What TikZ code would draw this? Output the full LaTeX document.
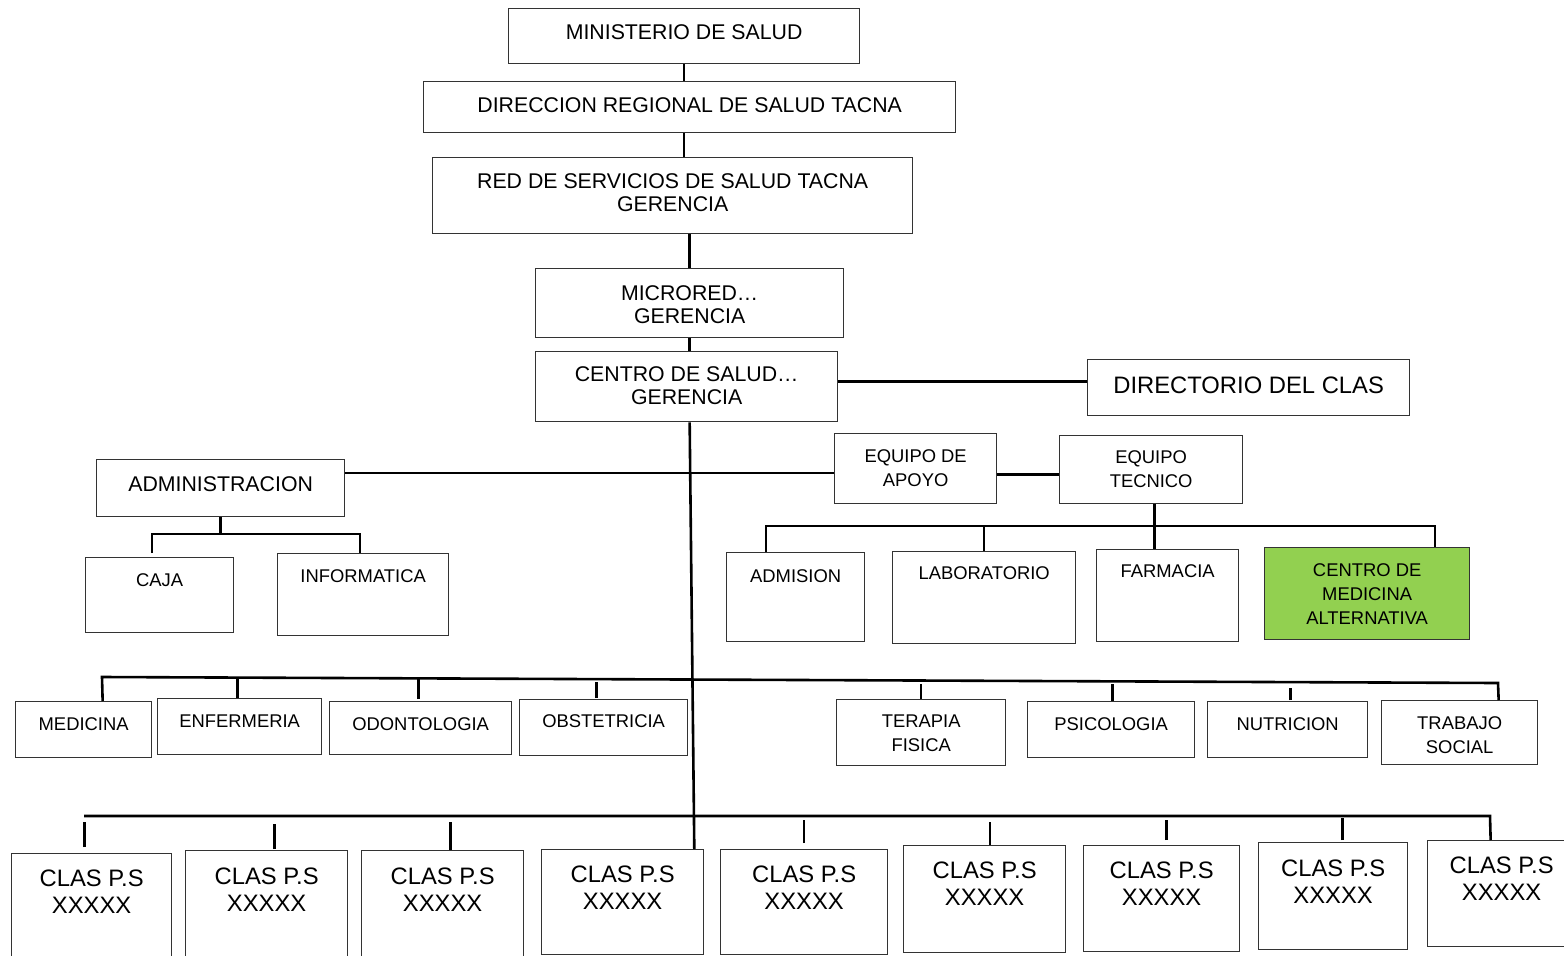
\documentclass[tikz,border=0pt]{standalone}
\usepackage{fontspec}
\setmainfont{Liberation Sans}
\definecolor{alt}{HTML}{92D050}

\begin{document}
\begin{tikzpicture}[x=1pt,y=-1pt,
    unit/.style n args={3}{draw=black!80,line width=1.3pt,inner sep=0pt,align=center,
      anchor=north west,minimum width=#1pt,text height=#2pt,text depth=#3pt},
    big/.style={font=\fontsize{21.3}{23.5}\selectfont},
    small/.style={font=\fontsize{18.4}{24}\selectfont},
    large/.style={font=\fontsize{23.8}{27}\selectfont},
    link/.style={line width=2.6pt}]
        \useasboundingbox (0,0) rectangle (1564,956);
        \path
        % top
        (508,8) node[unit={351}{30.6}{24.4},big](mins) {MINISTERIO DE SALUD}
        (423,81) node[unit={532}{30.6}{20.4},big](dirr) {DIRECCION REGIONAL DE SALUD TACNA}
        (432,157) node[unit={480}{54.1}{21.9},big](red) {RED DE SERVICIOS DE SALUD TACNA\\GERENCIA}
        (535,268) node[unit={308}{55.1}{13.9},big](micro) {MICRORED…\\GERENCIA}
        (535,351) node[unit={302}{53.1}{16.9},big](centro) {CENTRO DE SALUD…\\GERENCIA}
        (1087,359) node[unit={322}{33.5}{22.5},large](direct) {DIRECTORIO DEL CLAS}

        % left
        (96,459) node[unit={248}{31.5}{25.5},big](admin) {ADMINISTRACION}
        (85,557) node[unit={148}{28.6}{46.4},small](caja) {CAJA}
        (277,553) node[unit={171}{28.6}{53.4},small](info) {INFORMATICA}

        % right
        (834,433) node[unit={162}{52.6}{17.4},small](apoyo) {EQUIPO DE\\APOYO}
        (1059,435) node[unit={183}{51.6}{16.4},small](tecnico) {EQUIPO\\TECNICO}
        (726,552) node[unit={138}{29.6}{59.4},small](admision) {ADMISION}
        (892,551) node[unit={183}{27.6}{64.4},small](lab) {LABORATORIO}
        (1096,549) node[unit={142}{27.6}{64.4},small](farmacia) {FARMACIA}
        (1264,547) node[unit={205}{76.6}{15.4},small,fill=alt](cma) {CENTRO DE\\MEDICINA\\ALTERNATIVA}

        % services
        (15,701) node[unit={136}{28.6}{27.4},small](medicina) {MEDICINA}
        (157,698) node[unit={164}{28.6}{27.4},small](enfermeria) {ENFERMERIA}
        (329,701) node[unit={182}{28.6}{24.4},small](odonto) {ODONTOLOGIA}
        (519,699) node[unit={168}{27.6}{28.4},small](obstet) {OBSTETRICIA}
        (836,699) node[unit={169}{51.6}{14.4},small](terapia) {TERAPIA\\FISICA}
        (1027,701) node[unit={167}{28.6}{27.4},small](psico) {PSICOLOGIA}
        (1207,701) node[unit={160}{28.6}{27.4},small](nutri) {NUTRICION}
        (1381,700) node[unit={156}{52.6}{11.4},small](trabajo) {TRABAJO\\SOCIAL}

        % clas
        (11,853) node[unit={160}{59.5}{50.5},large](c1) {CLAS P.S\\XXXXX}
        (185,850) node[unit={162}{60.5}{49.5},large](c2) {CLAS P.S\\XXXXX}
        (361,850) node[unit={162}{60.5}{49.5},large](c3) {CLAS P.S\\XXXXX}
        (541,849) node[unit={162}{59.5}{45.5},large](c4) {CLAS P.S\\XXXXX}
        (720,849) node[unit={167}{59.5}{45.5},large](c5) {CLAS P.S\\XXXXX}
        (903,845) node[unit={162}{59.5}{47.5},large](c6) {CLAS P.S\\XXXXX}
        (1083,845) node[unit={156}{59.5}{46.5},large](c7) {CLAS P.S\\XXXXX}
        (1258,842) node[unit={149}{60.5}{46.5},large](c8) {CLAS P.S\\XXXXX}
        (1427,840) node[unit={148}{59.5}{46.5},large](c9) {CLAS P.S\\XXXXX}
        ;

        \coordinate (adm-l) at (152,534);
        \coordinate (adm-r) at (360,534);
        \coordinate (tec-l) at (766,526);
        \coordinate (tec-r) at (1435,526);
        \coordinate (mid-l) at (102,677);
        \coordinate (mid-r) at (1498,683);
        \coordinate (low-l) at (84,816);
        \coordinate (low-r) at (1490,816);

        \draw[link] (mins.south) -- (mins.south |- dirr.north);
        \draw[link] (dirr.south -| mins.south) -- (mins.south |- red.north);
        \draw[link] (red.south -| micro.north) -- (micro.north);
        \draw[link] (micro.south) -- (micro.south |- centro.north);
        \draw[link] ([yshift=5pt]centro.east) -- ([yshift=5pt]centro.east -| direct.west);
        \draw[link] ([xshift=3pt]centro.south) -- ([xshift=-10pt]c4.north east);

        \draw[link] ([yshift=15pt]admin.east) -- ([yshift=15pt]admin.east -| apoyo.west);
        \draw[link] ([yshift=-6pt]apoyo.east) -- ([yshift=-6pt]apoyo.east -| tecnico.west);

        \draw[link] (admin.south) -- (admin.south |- adm-l);
        \draw[link] ([yshift=4pt]caja.north -| adm-l) -- (adm-l) -- (adm-r) -- (info.north -| adm-r);

        \draw[link] ([xshift=3.5pt]tecnico.south) -- ([xshift=3.5pt]tecnico.south |- farmacia.north);
        \draw[link] (admision.north -| tec-l) -- (tec-l) -- (tec-r) -- (cma.north -| tec-r);
        \draw[link] (lab.north) -- (lab.north |- tec-l);

        \draw[link] ([xshift=19pt]medicina.north) -- (mid-l) -- (mid-r) -- ([xshift=39pt]trabajo.north);
        \draw[link] ([xshift=-2pt]enfermeria.north) -- ++(0,-20);
        \draw[link] ([xshift=-2pt,yshift=2pt]odonto.north) -- ++(0,-20);
        \draw[link] ([xshift=-7pt,yshift=1pt]obstet.north) -- ++(0,-16);
        \draw[link] (terapia.north) -- ++(0,-15);
        \draw[link] ([xshift=1.5pt]psico.north) -- ++(0,-17);
        \draw[link] ([xshift=3pt,yshift=1pt]nutri.north) -- ++(0,-12);

        \draw[link] (low-l) -- (low-r) -- ([xshift=-11pt]c9.north);
        \draw[link] ([xshift=-7pt,yshift=6pt]c1.north) -- ++(0,-25);
        \draw[link] ([xshift=8pt,yshift=1pt]c2.north) -- ++(0,-25);
        \draw[link] ([xshift=8pt]c3.north) -- ++(0,-28);
        \draw[link] ([yshift=6pt]c5.north) -- ++(0,-23);
        \draw[link] ([xshift=5.5pt]c6.north) -- ++(0,-23);
        \draw[link] ([xshift=5pt,yshift=5pt]c7.north) -- ++(0,-20);
        \draw[link] ([xshift=9.5pt,yshift=2pt]c8.north) -- ++(0,-22);
      \end{tikzpicture}
\end{document}
